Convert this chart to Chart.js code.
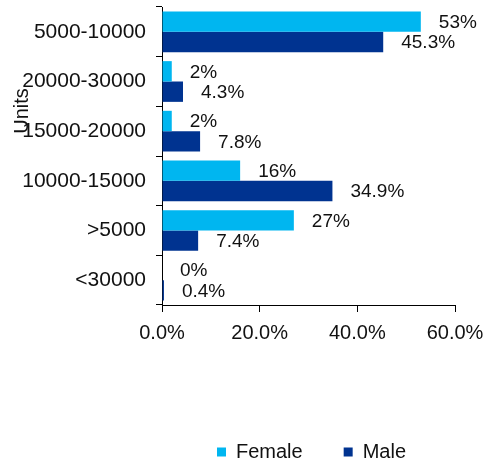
<!DOCTYPE html>
<html>
<head>
<meta charset="utf-8">
<script src="https://cdn.jsdelivr.net/npm/chart.js@4/dist/chart.umd.min.js"></script>
<style>
  html, body { margin: 0; padding: 0; background: #fff; }
  #wrap { width: 489px; height: 464px; }
</style>
</head>
<body>
<div id="wrap"><canvas id="chart"></canvas></div>
<script>
// income bands, top to bottom as in the picture
const categories = ["5000-10000", "20000-30000", "15000-20000", "10000-15000", ">5000", "<30000"];
const femaleShare = [53, 2, 2, 16, 27, 0];
const maleShare = [45.3, 4.3, 7.8, 34.9, 7.4, 0.4];
const xTicks = [0, 20, 40, 60];
const axisTitle = "Units";

const FONT = "'Liberation Sans', Arial, sans-serif";
const labelDigits = [0, 1]; // female labels are whole numbers, male have one decimal

// value labels to the right of each bar
const valueLabels = {
  id: "valueLabels",
  afterDatasetsDraw(chart) {
    const ctx = chart.ctx;
    ctx.save();
    ctx.font = "19px " + FONT;
    ctx.fillStyle = "#111";
    ctx.textAlign = "left";
    ctx.textBaseline = "middle";
    chart.data.datasets.forEach((ds, i) => {
      const meta = chart.getDatasetMeta(i);
      meta.data.forEach((bar, j) => {
        ctx.fillText(ds.data[j].toFixed(labelDigits[i]) + "%", bar.x + 18, bar.y + 1);
      });
    });
    ctx.restore();
  }
};

// the rotated "Units" title sits over the tick labels, so draw it by hand
const unitsTitle = {
  id: "unitsTitle",
  afterDraw(chart) {
    const ctx = chart.ctx;
    ctx.save();
    ctx.translate(22, 111);
    ctx.rotate(-Math.PI / 2);
    ctx.font = "20px " + FONT;
    ctx.fillStyle = "#111";
    ctx.textAlign = "center";
    ctx.textBaseline = "middle";
    ctx.fillText(axisTitle, 0, 0);
    ctx.restore();
  }
};

// legend needs wide gaps between items (padding) but sits low and right of centre
const legendPlace = {
  id: "legendPlace",
  beforeLayout(chart) {
    const lg = chart.legend;
    if (lg && !lg._capped) {
      const fit = lg.fit;
      lg.fit = function () {
        fit.call(this);
        this.height = 63;
      };
      lg._capped = true;
    }
  },
  afterLayout(chart) {
    const lg = chart.legend;
    if (lg) {
      lg.left += 84;
      lg.right += 84;
    }
  }
};

new Chart(document.getElementById("chart"), {
  type: "bar",
  data: {
    labels: categories,
    datasets: [
      { label: "Female", data: femaleShare, backgroundColor: "#00B6F0", borderWidth: 0 },
      { label: "Male", data: maleShare, backgroundColor: "#003390", borderWidth: 0 }
    ]
  },
  options: {
    indexAxis: "y",
    responsive: true,
    maintainAspectRatio: false,
    animation: false,
    categoryPercentage: 0.82,
    barPercentage: 1,
    layout: { padding: { top: 7, right: 34, bottom: 0, left: 0 } },
    plugins: {
      legend: {
        position: "bottom",
        labels: {
          font: { family: FONT, size: 20 },
          color: "#111",
          boxWidth: 9,
          boxHeight: 9,
          padding: 41
        }
      },
      tooltip: { enabled: false }
    },
    scales: {
      x: {
        min: 0,
        max: 60,
        afterBuildTicks: s => { s.ticks = xTicks.map(v => ({ value: v })); },
        ticks: {
          font: { family: FONT, size: 20 },
          color: "#111",
          padding: 9,
          callback: v => v.toFixed(1) + "%"
        },
        grid: { drawOnChartArea: false, tickLength: 7, color: "#000" },
        border: { display: true, color: "#000", width: 1 },
        afterFit: s => { s.height = 96; s.paddingLeft = 0; s.paddingRight = 0; }
      },
      y: {
        ticks: { font: { family: FONT, size: 21 }, color: "#111", padding: 10 },
        grid: { drawOnChartArea: false, tickLength: 6, color: "#000", offset: true },
        border: { display: true, color: "#000", width: 1 },
        afterFit: s => { s.width = 162; s.paddingTop = 0; s.paddingBottom = 0; }
      }
    }
  },
  plugins: [valueLabels, unitsTitle, legendPlace]
});
</script>
</body>
</html>
